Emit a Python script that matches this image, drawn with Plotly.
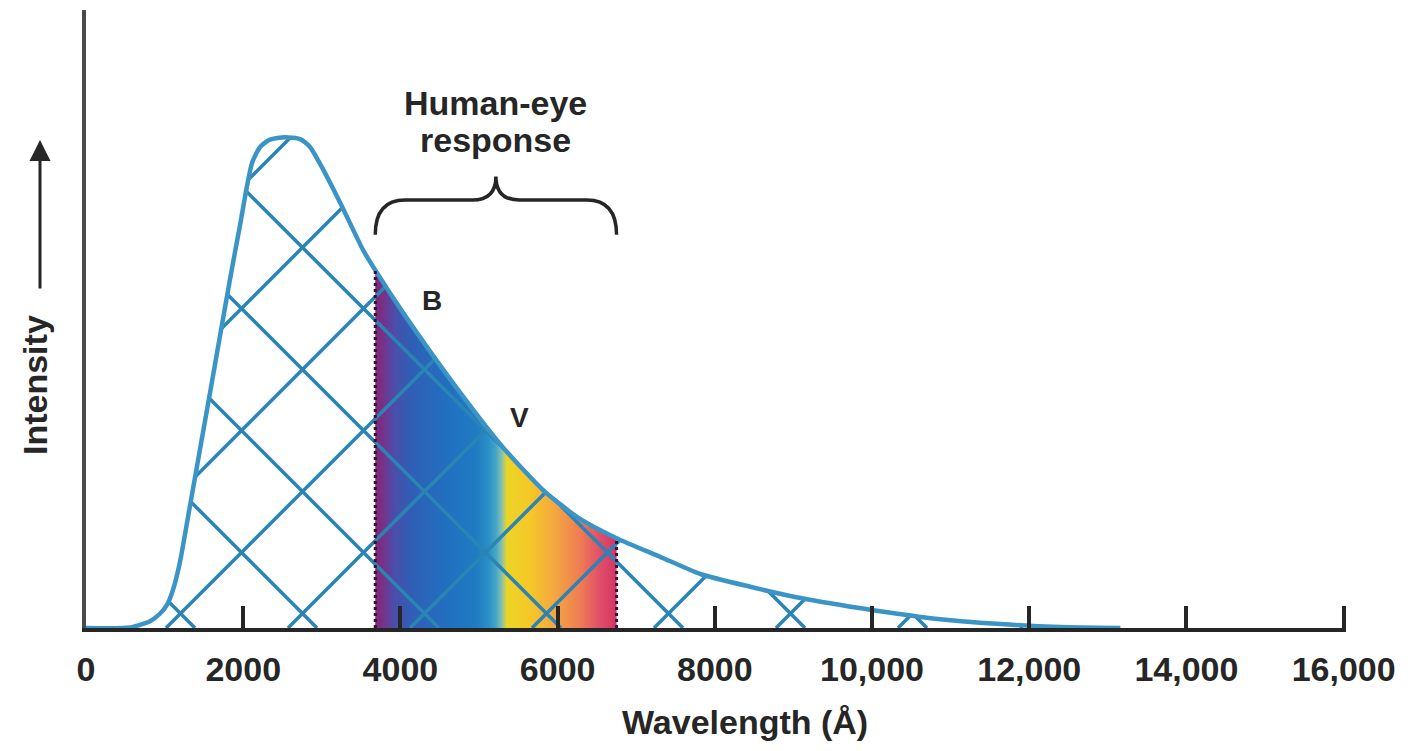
import numpy as np
import plotly.graph_objects as go

# ---------------- data ----------------
WAVELENGTH = [0, 560, 815, 940, 1030, 1105, 1195, 1325, 1580, 1835, 1960, 2050, 2115, 2215,
              2340, 2530, 2725, 2850, 2980, 3235, 3525, 3680, 4035, 4670, 5310, 5815, 6250,
              6750, 7305, 7815, 8450, 9090, 9980, 10745, 11635, 12400, 13160]
INTENSITY = [0, 0.1, 1.4, 2.9, 4.7, 7.7, 13.4, 25.1, 48.1, 71.3, 82.1, 90.2, 94.9, 98.0,
             99.5, 100, 99.6, 98.0, 94.5, 86.6, 77.0, 72.9, 64.2, 49.9, 36.7, 28.1, 22.6,
             18.3, 14.5, 11.0, 8.4, 6.1, 3.7, 2.0, 0.8, 0.2, 0]

BAND_START = 3680   # human-eye response band (Å)
BAND_END = 6750
TICK_VALUES = [0, 2000, 4000, 6000, 8000, 10000, 12000, 14000, 16000]
TICK_LABELS = ["0", "2000", "4000", "6000", "8000", "10,000", "12,000", "14,000", "16,000"]
FILTER_LABELS = ["B", "V"]
FILTER_WAVELENGTH = [4400, 5520]
FILTER_INTENSITY = [66.8, 42.8]

# ---------------- layout constants ----------------
W_PX, H_PX = 1414, 751
OFF = 8                     # page body margin
PLOT_L, PLOT_T = 86, 10     # plot-area position on the page
PW, PH = 1260, 618
ML, MT = PLOT_L - OFF, PLOT_T - OFF
MR = W_PX - ML - PW
MB = H_PX - MT - PH
PLOT_B = PLOT_T + PH
X_MIN, X_MAX = 0, 16030
Y_MAX = 125.9

FONT = "Liberation Sans"
INK = "#262626"
CURVE_COLOR = "#3b94c6"
HATCH_COLOR = "#2a84b4"

W = np.array(WAVELENGTH, float)
I = np.array(INTENSITY, float)


def from_px(x, y):
    return X_MIN + (x - PLOT_L) / PW * (X_MAX - X_MIN), (PLOT_B - y) / PH * Y_MAX


def paper(px, py):
    return (px - PLOT_L) / PW, (PLOT_B - py) / PH


# ---------------- cross-hatch clipped under the curve ----------------
xs = np.arange(PLOT_L, PLOT_L + PW + 0.5, 0.5)
hx, hy = [], []
PERIOD = 122
for sign, c0 in ((1, 67), (-1, 672)):
    for k in range(-25, 30):
        c = c0 + PERIOD * k
        ys = sign * xs + c
        lam, inten = from_px(xs, ys)
        top = np.interp(lam, W, I)
        mask = (inten >= 0) & (inten <= top) & (lam >= 0)
        if mask.sum() < 2:
            continue
        yy = np.where(mask, inten, np.nan)
        hx.extend(lam.tolist() + [np.nan])
        hy.extend(yy.tolist() + [np.nan])

fig = go.Figure()

# spectrum-coloured band
band = (W >= BAND_START) & (W <= BAND_END)
fig.add_trace(go.Scatter(
    x=W[band], y=I[band], mode="lines", line=dict(width=0, shape="spline", smoothing=0.6),
    fill="tozeroy",
    fillgradient=dict(type="horizontal", colorscale=[
        [0.0, "#7a2a75"], [0.03, "#7a3088"], [0.08, "#4a4eaa"], [0.15, "#2f5fb5"],
        [0.30, "#2170c0"], [0.42, "#1f7cc2"], [0.47, "#2b90c6"], [0.50, "#45a6c6"],
        [0.525, "#86c2ae"], [0.545, "#ecd426"], [0.64, "#f5c828"], [0.74, "#f4a840"],
        [0.85, "#ef7c55"], [0.93, "#e04f68"], [1.0, "#d43566"]]),
    hoverinfo="skip", showlegend=False))

# hatch
fig.add_trace(go.Scatter(x=hx, y=hy, mode="lines", connectgaps=False,
                         line=dict(color=HATCH_COLOR, width=3.5),
                         hoverinfo="skip", showlegend=False))

# outline curve
fig.add_trace(go.Scatter(x=W, y=I, mode="lines",
                         line=dict(color=CURVE_COLOR, width=4.5, shape="spline", smoothing=0.6),
                         hoverinfo="skip", showlegend=False))

# dotted edges of the band
for edge in (BAND_START, BAND_END):
    fig.add_trace(go.Scatter(x=[edge, edge], y=[0, float(np.interp(edge, W, I))], mode="lines",
                             line=dict(color="#3a1030", width=3, dash="dot"),
                             hoverinfo="skip", showlegend=False))

# B / V labels
for lab, lx, ly in zip(FILTER_LABELS, FILTER_WAVELENGTH, FILTER_INTENSITY):
    fig.add_annotation(x=lx, y=ly, text=lab, showarrow=False,
                       font=dict(family=FONT, size=28, color=INK, weight="bold"))

# brace over the band
x0, x1 = BAND_START, BAND_END
xc = (x0 + x1) / 2
yE, yM, yT = 80.1, 87.2, 92.0
r, r2 = 380, 300
path = (f"M {x0},{yE} Q {x0},{yM} {x0 + r},{yM} L {xc - r2},{yM} "
        f"Q {xc},{yM} {xc},{yT} Q {xc},{yM} {xc + r2},{yM} "
        f"L {x1 - r},{yM} Q {x1},{yM} {x1},{yE}")
fig.add_shape(type="path", path=path, xref="x", yref="y",
              line=dict(color=INK, width=3.5))
fig.add_annotation(x=xc, y=107.0, text="Human-eye", showarrow=False,
                   font=dict(family=FONT, size=34, color=INK, weight="bold"))
fig.add_annotation(x=xc, y=99.5, text="response", showarrow=False,
                   font=dict(family=FONT, size=34, color=INK, weight="bold"))

# axis titles
tx, ty = paper(745, 722)
fig.add_annotation(xref="paper", yref="paper", x=tx, y=ty, xanchor="center", yanchor="middle",
                   text="Wavelength (Å)", showarrow=False,
                   font=dict(family=FONT, size=34, color=INK, weight="bold"))
ix, iy = paper(35, 385)
fig.add_annotation(xref="paper", yref="paper", x=ix, y=iy, xanchor="center", yanchor="middle",
                   text="Intensity", textangle=-90, showarrow=False,
                   font=dict(family=FONT, size=34, color=INK, weight="bold"))
axx, axy = paper(40, 140)
fig.add_annotation(xref="paper", yref="paper", x=axx, y=axy,
                   text="", showarrow=True, ax=0, ay=150, arrowhead=2, arrowsize=1.4,
                   arrowwidth=3, arrowcolor=INK)

fig.update_xaxes(range=[X_MIN, X_MAX], showgrid=False, zeroline=False, showline=True,
                 linecolor=INK, linewidth=4, ticks="inside", ticklen=22, tickwidth=3.5,
                 tickcolor=INK, tickvals=TICK_VALUES, ticktext=TICK_LABELS,
                 ticklabelstandoff=8,
                 tickfont=dict(family=FONT, size=34, color=INK, weight="bold"))
fig.update_yaxes(range=[0, Y_MAX], showgrid=False, zeroline=False, showline=True,
                 linecolor="#4a4a4a", linewidth=4, ticks="", showticklabels=False)

fig.update_layout(width=W_PX, height=H_PX, autosize=False,
                  margin=dict(l=ML, r=MR, t=MT, b=MB, pad=0),
                  paper_bgcolor="white", plot_bgcolor="white", showlegend=False)

fig.write_html("out.html")
